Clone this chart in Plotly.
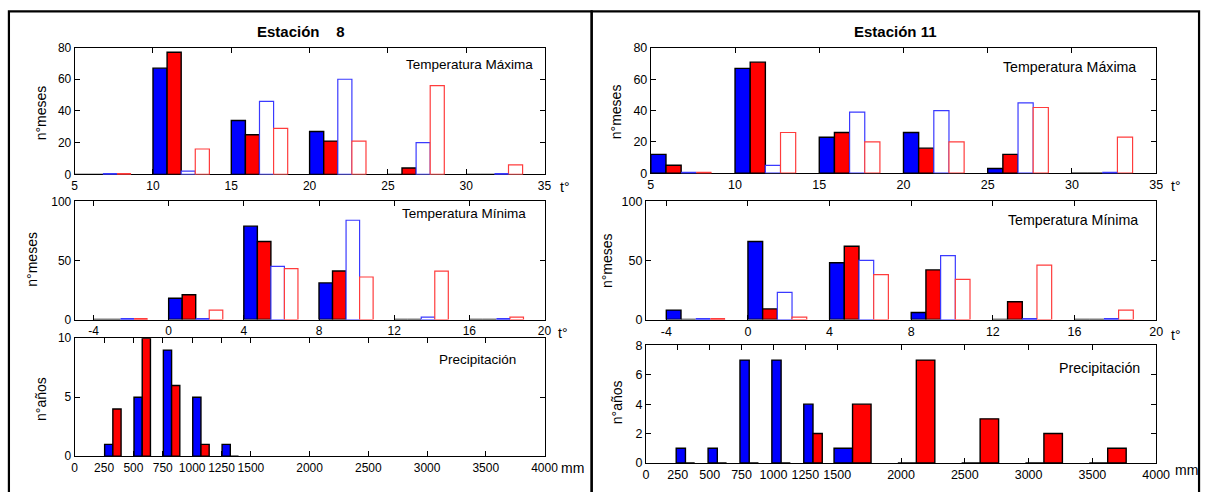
import plotly.graph_objects as go

W, H = 1217, 492

# ---------------- data ----------------
tmax_bins = [5, 10, 15, 20, 25, 30]
tmin_bins = [-4, 0, 4, 8, 12, 16]
tmax_step = 5
tmin_step = 4

tmax_ticks = [5, 10, 15, 20, 25, 30, 35]
tmin_ticks = [-4, 0, 4, 8, 12, 16, 20]
prec_ticks = [0, 250, 500, 750, 1000, 1250, 1500, 2000, 2500, 3000, 3500, 4000]

# Estación 8
e8_tmax_blue = [0, 67, 34, 27, 0, 0]
e8_tmax_red = [0, 77, 25, 21, 4, 0]
e8_tmax_blue_open = [0, 2, 46, 60, 20, 0]
e8_tmax_red_open = [0, 16, 29, 21, 56, 6]

e8_tmin_blue = [0, 18, 79, 31, 0, 0]
e8_tmin_red = [0, 21, 66, 41, 0, 0]
e8_tmin_blue_open = [0, 0, 45, 84, 2, 0]
e8_tmin_red_open = [0, 8, 43, 36, 41, 2]

e8_prec_bins = [250, 500, 750, 1000, 1250, 1500]
e8_prec_blue = [1, 5, 9, 5, 1]
e8_prec_red = [4, 10, 6, 1, 0]

# Estación 11
e11_tmax_blue = [12, 67, 23, 26, 3, 0]
e11_tmax_red = [5, 71, 26, 16, 12, 0]
e11_tmax_blue_open = [0, 5, 39, 40, 45, 0]
e11_tmax_red_open = [0, 26, 20, 20, 42, 23]

e11_tmin_blue = [8, 66, 48, 6, 0, 0]
e11_tmin_red = [0, 9, 62, 42, 15, 0]
e11_tmin_blue_open = [0, 23, 50, 54, 0, 0]
e11_tmin_red_open = [0, 2, 38, 34, 46, 8]

e11_prec_bins = [250, 500, 750, 1000, 1250, 1500, 2000, 2500, 3000, 3500, 4000]
e11_prec_blue = [1, 1, 7, 7, 4, 1, 0, 0, 0, 0]
e11_prec_red = [0, 0, 0, 0, 2, 4, 7, 3, 2, 1]

# ---------------- style ----------------
FONT = "Liberation Sans, Arial, sans-serif"
BLUE = "#0000ff"
RED = "#ff0000"
BLUE_EDGE = "#3a3aff"
RED_EDGE = "#ff3c3c"

fig = go.Figure()


def px_x(p):
    return p / W


def px_y(p):
    return 1 - p / H


def add_temp_panel(ax, bins, step, blue, red, blue_open, red_open):
    bw = 0.18 * step
    series = [
        (blue, BLUE, True),
        (red, RED, True),
        (blue_open, BLUE_EDGE, False),
        (red_open, RED_EDGE, False),
    ]
    for k, (vals, col, filled) in enumerate(series):
        fig.add_trace(go.Bar(
            x=bins, y=vals, width=bw, offset=k * bw,
            xaxis="x" + ax, yaxis="y" + ax,
            marker=dict(color=col if filled else "white",
                        line=dict(color="black" if filled else col,
                                  width=1.4 if filled else 1.2)),
            showlegend=False, hoverinfo="x+y"))
        if not filled:
            zx, zy = [], []
            for b, v in zip(bins, vals):
                if v == 0:
                    zx += [b + k * bw, b + (k + 1) * bw, None]
                    zy += [0, 0, None]
            if zx:
                fig.add_trace(go.Scatter(
                    x=zx, y=zy, mode="lines",
                    line=dict(color=col, width=3),
                    xaxis="x" + ax, yaxis="y" + ax,
                    showlegend=False, hoverinfo="skip"))


def add_prec_panel(ax, edges, blue, red, blue_off, red_off, wfrac):
    starts = edges[:-1]
    widths = [b - a for a, b in zip(edges[:-1], edges[1:])]
    for vals, col, off in [(blue, BLUE, blue_off), (red, RED, red_off)]:
        fig.add_trace(go.Bar(
            x=starts, y=vals,
            width=[wfrac * w for w in widths],
            offset=[off * w for w in widths],
            xaxis="x" + ax, yaxis="y" + ax,
            marker=dict(color=col, line=dict(color="black", width=1.4)),
            showlegend=False, hoverinfo="x+y"))


add_temp_panel("", tmax_bins, tmax_step, e8_tmax_blue, e8_tmax_red,
               e8_tmax_blue_open, e8_tmax_red_open)
add_temp_panel("2", tmin_bins, tmin_step, e8_tmin_blue, e8_tmin_red,
               e8_tmin_blue_open, e8_tmin_red_open)
add_prec_panel("3", e8_prec_bins, e8_prec_blue, e8_prec_red, 0.02, 0.30, 0.28)
add_temp_panel("4", tmax_bins, tmax_step, e11_tmax_blue, e11_tmax_red,
               e11_tmax_blue_open, e11_tmax_red_open)
add_temp_panel("5", tmin_bins, tmin_step, e11_tmin_blue, e11_tmin_red,
               e11_tmin_blue_open, e11_tmin_red_open)
add_prec_panel("6", e11_prec_bins, e11_prec_blue, e11_prec_red, -0.05, 0.24, 0.29)

# ---------------- axes ----------------
panels = {
    "": (72.7, 549.2, 41.7, 172.3, [5, 35], tmax_ticks, [0, 80], [0, 20, 40, 60, 80], 12),
    "2": (72.7, 549.2, 200, 321.7, [-5, 20], tmin_ticks, [0, 100], [0, 50, 100], 12),
    "3": (72.7, 549.2, 341, 462.3, [0, 4000], prec_ticks, [0, 10], [0, 5, 10], 12),
    "4": (657, 1169.5, 42.3, 171, [5, 35], tmax_ticks, [0, 80], [0, 20, 40, 60, 80], 12.5),
    "5": (652, 1169.5, 200, 321.7, [-5, 20], tmin_ticks, [0, 100], [0, 50, 100], 12.5),
    "6": (652, 1169.5, 348.3, 469.3, [0, 4000], prec_ticks, [0, 8], [0, 2, 4, 6, 8], 12.5),
}

layout_axes = {}
for name, (xl, xr, yt, yb, xrng, xt, yrng, yt_ticks, fs) in panels.items():
    common = dict(showgrid=False, zeroline=False, showline=True, linecolor="black",
                  linewidth=1, ticks="inside", ticklen=5, tickcolor="black",
                  mirror="ticks", tickfont=dict(family=FONT, size=fs, color="black"),
                  fixedrange=True, layer="below traces")
    layout_axes["xaxis" + name] = dict(
        domain=[px_x(xl), px_x(xr)], range=xrng, tickmode="array",
        tickvals=xt, ticktext=[str(v) for v in xt],
        anchor="y" + name, **common)
    layout_axes["yaxis" + name] = dict(
        domain=[px_y(yb), px_y(yt)], range=yrng, tickmode="array",
        tickvals=yt_ticks, ticktext=[str(v) for v in yt_ticks],
        anchor="x" + name, **common)

# ---------------- annotations ----------------
ann = []


def text(x, y, s, size=13.5, xanchor="center", angle=0, bold=False):
    ann.append(dict(x=px_x(x), y=px_y(y), xref="paper", yref="paper",
                    text=("<b>%s</b>" % s) if bold else s, showarrow=False,
                    xanchor=xanchor, yanchor="middle", textangle=angle,
                    font=dict(family=FONT, size=size, color="black")))


text(302, 25, "Estación\u00a0\u00a0\u00a0\u00a08", size=15, bold=True)
text(905, 25, "Estación 11", size=15, bold=True)

text(540, 59, "Temperatura Máxima", xanchor="right")
text(532, 212.5, "Temperatura Mínima", xanchor="right")
text(522, 362.5, "Precipitación", xanchor="right")
text(1151, 61.5, "Temperatura Máxima", size=14.2, xanchor="right")
text(1153, 219, "Temperatura Mínima", size=14.2, xanchor="right")
text(1155, 372, "Precipitación", size=14.2, xanchor="right")

text(38, 109, "n°meses", size=14, angle=-90)
text(29.5, 260, "n°meses", size=14, angle=-90)
text(38, 403, "n°años", size=14, angle=-90)
text(622, 108, "n°meses", size=14, angle=-90)
text(612, 261, "n°meses", size=14, angle=-90)
text(623.5, 407, "n°años", size=14, angle=-90)

text(570, 185, "t°", size=14)
text(568, 336, "t°", size=14)
text(578, 475, "mm", size=14)
text(1190, 184, "t°", size=14)
text(1190, 338, "t°", size=14)
text(1200, 477, "mm", size=14)

# ---------------- frames ----------------
shapes = [
    dict(type="rect", xref="paper", yref="paper",
         x0=px_x(6), x1=px_x(597), y0=px_y(520), y1=px_y(4.5),
         line=dict(color="black", width=2.2), layer="above"),
    dict(type="rect", xref="paper", yref="paper",
         x0=px_x(597), x1=px_x(1213), y0=px_y(520), y1=px_y(4.5),
         line=dict(color="black", width=2.2), layer="above"),
]

fig.update_layout(
    width=W, height=H, margin=dict(l=0, r=0, t=0, b=0),
    paper_bgcolor="white", plot_bgcolor="white",
    barmode="overlay", showlegend=False,
    annotations=ann, shapes=shapes,
    font=dict(family=FONT, color="black"),
    **layout_axes)

fig.write_html(
    "out.html",
    config={"displayModeBar": False, "responsive": False},
    post_script="document.body.style.margin='0';document.body.style.padding='0';"
                "document.body.style.overflow='hidden';",
)
